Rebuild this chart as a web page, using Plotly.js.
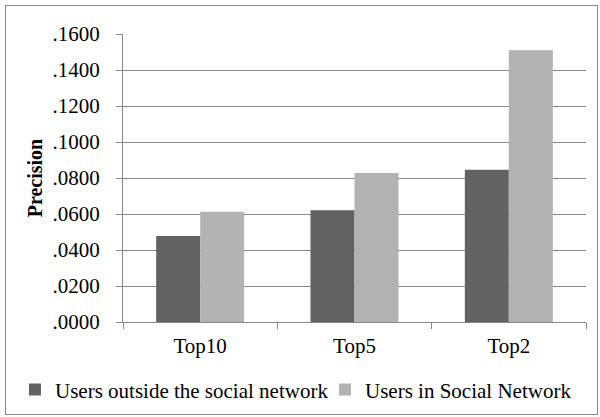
<!DOCTYPE html>
<html><head><meta charset="utf-8">
<script src="https://cdn.plot.ly/plotly-3.0.1.min.js"></script>
<style>
html,body{margin:0;padding:0;background:#fff;}
#wrap{position:relative;width:600px;height:417px;}
#chart{width:600px;height:417px;}
#frame{position:absolute;left:5px;top:5px;width:591px;height:408px;border:1px solid #888;pointer-events:none;}
</style></head>
<body>
<div id="wrap"><div id="chart"></div><div id="frame"></div></div>
<script>
const categories = ["Top10", "Top5", "Top2"];
const outsideValues = [0.0478, 0.0621, 0.0846];
const inValues = [0.0612, 0.0828, 0.1510];
const seriesNames = ["Users outside the social network", "Users in Social Network"];
const yTicks = [0, 0.02, 0.04, 0.06, 0.08, 0.10, 0.12, 0.14, 0.16];
const yTickText = [".0000", ".0200", ".0400", ".0600", ".0800", ".1000", ".1200", ".1400", ".1600"];

const FAM = "'Liberation Serif', 'Times New Roman', serif";
const font = {family: FAM, size: 21, color: "#000"};
const data = [
  {type: "bar", x: categories, y: outsideValues, name: seriesNames[0], marker: {color: "#626262"}, legend: "legend"},
  {type: "bar", x: categories, y: inValues, name: seriesNames[1], marker: {color: "#b2b2b2"}, legend: "legend2"}
];
const legBase = {orientation: "h", y: -0.236, yanchor: "middle", xanchor: "left", font: font, bgcolor: "rgba(0,0,0,0)", borderwidth: 0};
const layout = {
  width: 600, height: 417,
  margin: {l: 123, r: 14, t: 34, b: 95, autoexpand: false},
  paper_bgcolor: "#fff", plot_bgcolor: "#fff",
  font: font,
  barmode: "group", bargap: 0.43, bargroupgap: 0,
  showlegend: true,
  legend: Object.assign({}, legBase, {x: -0.2333}),
  legend2: Object.assign({}, legBase, {x: 0.4363}),
  xaxis: {
    type: "category", showline: true, linecolor: "#888", linewidth: 1,
    ticks: "outside", tickson: "boundaries", ticklen: 6, tickcolor: "#888",
    showgrid: false, tickfont: font, fixedrange: true, ticklabelstandoff: 5
  },
  yaxis: {
    range: [0, 0.16], tickvals: yTicks, ticktext: yTickText,
    showline: true, linecolor: "#888", linewidth: 1,
    ticks: "outside", ticklen: 6, tickcolor: "#888",
    showgrid: true, gridcolor: "#888", gridwidth: 1, zeroline: false,
    tickfont: font, ticklabelstandoff: 12,
    title: {text: "<b>Precision</b>", font: {family: FAM, size: 20, color: "#000"}, standoff: 4}
  }
};
Plotly.newPlot("chart", data, layout, {displayModeBar: false, staticPlot: true});
</script>
</body></html>
